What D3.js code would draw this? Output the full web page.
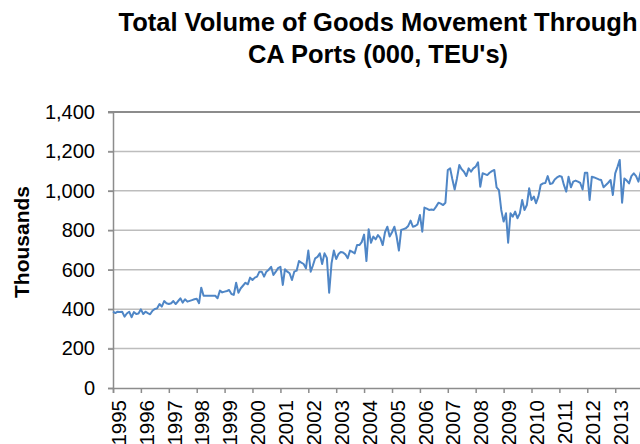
<!DOCTYPE html>
<html>
<head>
<meta charset="utf-8">
<script src="https://cdn.jsdelivr.net/npm/d3@7"></script>
<style>
	body { margin: 0; background: #fff; }
	svg { display: block; font-family: "Liberation Sans", Arial, Helvetica, sans-serif; }
</style>
</head>
<body>
<script>
const startYear = 1995;
const yearLabels = ["1995", "1996", "1997", "1998", "1999", "2000", "2001", "2002", "2003",
	"2004", "2005", "2006", "2007", "2008", "2009", "2010", "2011", "2012", "2013"];
const yTicks = [0, 200, 400, 600, 800, 1000, 1200, 1400];

// monthly TEU's (000), one row per year starting Jan 1995
const teuVolume = [
	387, 380, 387, 386, 387, 362, 378, 387, 359, 385, 375, 378,
	399, 375, 387, 380, 374, 392, 401, 404, 426, 413, 441, 430,
	426, 430, 441, 426, 440, 455, 433, 450, 438, 442, 446, 450,
	453, 430, 509, 468, 468, 468, 468, 468, 468, 455, 494, 485,
	489, 492, 497, 477, 472, 534, 483, 506, 520, 534, 526, 560,
	548, 560, 565, 590, 590, 565, 590, 600, 615, 573, 590, 608,
	615, 523, 602, 590, 582, 548, 590, 595, 644, 636, 629, 607,
	697, 590, 620, 658, 665, 683, 629, 683, 660, 483, 632, 697,
	654, 680, 690, 687, 678, 658, 697, 690, 683, 725, 725, 740,
	778, 644, 805, 737, 768, 754, 776, 760, 725, 790, 818, 768,
	790, 818, 771, 697, 802, 806, 810, 822, 849, 818, 822, 830,
	878, 793, 915, 910, 903, 905, 903, 920, 940, 935, 928, 940,
	1106, 1114, 1060, 1007, 1063, 1131, 1110, 1097, 1075, 1114, 1097, 1114,
	1123, 1145, 1021, 1089, 1085, 1080, 1092, 1100, 1106, 1018, 1004, 903,
	844, 886, 737, 886, 869, 895, 861, 886, 954, 903, 928, 1013,
	954, 971, 937, 971, 1030, 1038, 1040, 1075, 1035, 1038, 1058, 1068,
	1075, 1072, 1030, 996, 1072, 1018, 1047, 1052, 1047, 1040, 1007, 1092,
	1092, 954, 1072, 1068, 1063, 1058, 1055, 1018, 1030, 1041, 1055, 979,
	1089, 1123, 1157, 940, 1063, 1052, 1038, 1075, 1089, 1075, 1047, 1097
];

document.addEventListener("DOMContentLoaded", () => {
	const width = 640;
	const height = 444;
	const left = 113;
	const top = 112;
	const bottom = 388;
	const yearWidth = 27.9;

	const svg = d3.select("body")
				  .append("svg")
				  .attr("width", width)
				  .attr("height", height);

	const data = teuVolume.map((v, i) => ({ date: new Date(startYear, i, 1), value: v }));

	const x = d3.scaleTime()
				.domain([new Date(startYear, 0, 1), new Date(startYear + 19, 0, 1)])
				.range([left, left + 19 * yearWidth]);

	const y = d3.scaleLinear()
				.domain([0, 1400])
				.range([bottom, top]);

	// gridlines
	svg.append("g")
	   .selectAll("line")
	   .data(yTicks.filter(d => d > 0))
	   .enter()
	   .append("line")
	   .attr("x1", left - 5)
	   .attr("x2", width)
	   .attr("y1", d => y(d))
	   .attr("y2", d => y(d))
	   .attr("stroke", d => d === 1400 ? "#8c8c8c" : "#bdbdbd")
	   .attr("stroke-width", d => d === 1400 ? 2 : 1.5);

	// y axis
	const yAxis = d3.axisLeft(y)
					.tickValues(yTicks)
					.tickSize(5)
					.tickPadding(13)
					.tickFormat(d3.format(","));

	const yG = svg.append("g")
				  .attr("transform", `translate(${left},0)`)
				  .call(yAxis);
	yG.select(".domain").attr("stroke", "#8c8c8c").attr("stroke-width", 1.5);
	yG.selectAll(".tick line").attr("stroke", "#8c8c8c").attr("stroke-width", 1.5);
	yG.selectAll(".tick text")
	  .attr("font-size", 20)
	  .attr("font-family", "Liberation Sans, Arial, sans-serif")
	  .attr("fill", "#000");

	// x axis
	const xAxis = d3.axisBottom(x)
					.tickValues(yearLabels.map(d => new Date(+d, 0, 1)))
					.tickSize(5)
					.tickFormat(d3.timeFormat("%Y"));

	const xG = svg.append("g")
				  .attr("transform", `translate(0,${bottom})`)
				  .call(xAxis);
	xG.select(".domain").attr("stroke", "#8c8c8c").attr("stroke-width", 1.5);
	xG.selectAll(".tick line").attr("stroke", "#8c8c8c").attr("stroke-width", 1.5);
	xG.selectAll(".tick text")
	  .attr("font-size", 20.5)
	  .attr("font-family", "Liberation Sans, Arial, sans-serif")
	  .attr("fill", "#000")
	  .attr("text-anchor", "end")
	  .attr("transform", "rotate(-90)")
	  .attr("x", -12)
	  .attr("y", 5)
	  .attr("dy", "0.35em");

	// series
	const line = d3.line()
				   .x(d => x(d.date))
				   .y(d => y(d.value));

	svg.append("path")
	   .datum(data)
	   .attr("fill", "none")
	   .attr("stroke", "#4f86c6")
	   .attr("stroke-width", 2)
	   .attr("stroke-linejoin", "round")
	   .attr("d", line);

	// titles
	const title = svg.append("text")
					 .attr("x", 378)
					 .attr("y", 31)
					 .attr("text-anchor", "middle")
					 .attr("font-size", 25.5)
					 .attr("font-weight", "bold");
	title.append("tspan").attr("x", 378).text("Total Volume of Goods Movement Through");
	title.append("tspan").attr("x", 378).attr("dy", 32).text("CA Ports (000, TEU's)");

	svg.append("text")
	   .attr("transform", "translate(29,242) rotate(-90)")
	   .attr("text-anchor", "middle")
	   .attr("font-size", 21)
	   .attr("font-weight", "bold")
	   .text("Thousands");
});
</script>
</body>
</html>
